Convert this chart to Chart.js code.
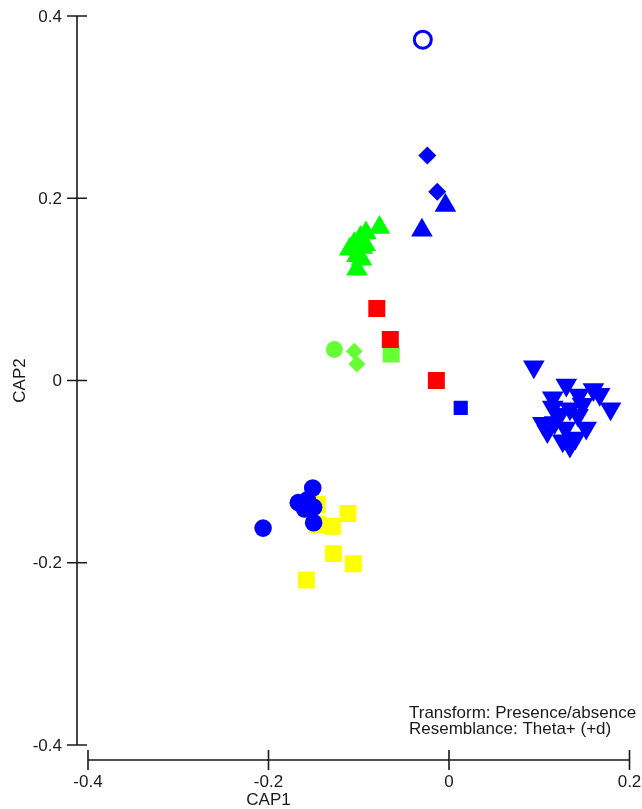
<!DOCTYPE html>
<html>
<head>
<meta charset="utf-8">
<script src="https://cdn.jsdelivr.net/npm/chart.js@4/dist/chart.umd.min.js"></script>
<style>
  body { margin: 0; background: #fff; }
  canvas { display: block; }
</style>
</head>
<body>
<canvas id="capChart" width="642" height="809"></canvas>
<script>
// CAP ordination scores, one array of [CAP1, CAP2] per symbol group
const blueOpenCircle = [[-0.029, 0.374]];
const blueDiamonds = [[-0.024, 0.247], [-0.013, 0.207]];
const blueTriangles = [[-0.004, 0.192], [-0.030, 0.165]];
const greenTriangles = [
  [-0.077, 0.168], [-0.092, 0.162], [-0.098, 0.157], [-0.105, 0.150], [-0.110, 0.144],
  [-0.096, 0.146], [-0.102, 0.137], [-0.097, 0.133], [-0.102, 0.122], [-0.093, 0.149]
];
const redSquares = [[-0.080, 0.079], [-0.065, 0.045], [-0.014, 0.000]];
const limeSquares = [[-0.064, 0.029]];
const limeCircles = [[-0.127, 0.034]];
const limeDiamonds = [[-0.105, 0.032], [-0.102, 0.018]];
const blueSquares = [[0.013, -0.030]];
const blueDownTriangles = [
  [0.094, 0.015], [0.130, -0.005], [0.160, -0.010], [0.115, -0.019], [0.144, -0.016],
  [0.179, -0.031], [0.134, -0.031], [0.115, -0.029], [0.143, -0.038], [0.104, -0.047],
  [0.117, -0.046], [0.152, -0.052], [0.126, -0.066], [0.140, -0.063], [0.109, -0.056],
  [0.129, -0.052], [0.167, -0.015], [0.123, -0.037], [0.148, -0.026], [0.134, -0.072]
];
const blueCircles = [
  [-0.206, -0.162], [-0.151, -0.118], [-0.167, -0.134], [-0.157, -0.131],
  [-0.150, -0.139], [-0.150, -0.156], [-0.160, -0.141]
];
const yellowSquares = [
  [-0.112, -0.146], [-0.129, -0.160], [-0.145, -0.158], [-0.146, -0.136],
  [-0.128, -0.190], [-0.106, -0.201], [-0.158, -0.219]
];

const xTicks = [-0.4, -0.2, 0, 0.2];
const xTickLabels = ['-0.4', '-0.2', '0', '0.2'];
const yTicks = [0.4, 0.2, 0, -0.2, -0.4];
const yTickLabels = ['0.4', '0.2', '0', '-0.2', '-0.4'];
const xTitle = 'CAP1';
const yTitle = 'CAP2';
const noteLines = ['Transform: Presence/absence', 'Resemblance: Theta+ (+d)'];

const BLUE = '#0000ff';
const GREEN = '#00ff00';
const LIME = '#66ff33';
const RED = '#ff0000';
const YELLOW = '#ffff00';
const FONT = "17px 'Liberation Sans', Arial, sans-serif";
const INK = '#1a1a1a';

function toPoints(arr) {
  return arr.map(p => ({ x: p[0], y: p[1] }));
}

function group(data, color, style, radius, extra) {
  return Object.assign({
    data: toPoints(data),
    pointStyle: style,
    pointRadius: radius,
    pointHoverRadius: radius,
    backgroundColor: color,
    borderColor: color,
    borderWidth: 0
  }, extra || {});
}

// PRIMER-style detached axes, ticks crossing the axis line
const primerAxes = {
  id: 'primerAxes',
  afterDraw(chart) {
    const ctx = chart.ctx;
    const xs = chart.scales.x;
    const ys = chart.scales.y;
    const area = chart.chartArea;
    const axisX = area.left - 11;
    const axisY = area.bottom + 15;

    ctx.save();
    ctx.strokeStyle = INK;
    ctx.lineWidth = 1.6;
    ctx.fillStyle = INK;
    ctx.font = FONT;

    // y axis
    ctx.beginPath();
    ctx.moveTo(axisX, ys.getPixelForValue(yTicks[0]));
    ctx.lineTo(axisX, ys.getPixelForValue(yTicks[yTicks.length - 1]));
    yTicks.forEach(v => {
      const py = ys.getPixelForValue(v);
      ctx.moveTo(axisX - 10, py);
      ctx.lineTo(axisX + 10, py);
    });
    ctx.stroke();
    ctx.textAlign = 'right';
    ctx.textBaseline = 'middle';
    yTicks.forEach((v, i) => {
      ctx.fillText(yTickLabels[i], axisX - 15, ys.getPixelForValue(v) + 1);
    });

    // x axis
    ctx.beginPath();
    ctx.moveTo(xs.getPixelForValue(xTicks[0]), axisY);
    ctx.lineTo(xs.getPixelForValue(xTicks[xTicks.length - 1]), axisY);
    xTicks.forEach(v => {
      const px = xs.getPixelForValue(v);
      ctx.moveTo(px, axisY - 10);
      ctx.lineTo(px, axisY + 10);
    });
    ctx.stroke();
    ctx.textAlign = 'center';
    xTicks.forEach((v, i) => {
      ctx.fillText(xTickLabels[i], xs.getPixelForValue(v), axisY + 22);
    });

    // titles
    ctx.fillText(xTitle, xs.getPixelForValue(-0.2), axisY + 40);
    ctx.save();
    ctx.translate(20, ys.getPixelForValue(0));
    ctx.rotate(-Math.PI / 2);
    ctx.fillText(yTitle, 0, 0);
    ctx.restore();

    // note, bottom right
    ctx.textAlign = 'left';
    ctx.textBaseline = 'alphabetic';
    ctx.fillText(noteLines[0], 409, 718);
    ctx.fillText(noteLines[1], 409, 734);
    ctx.restore();
  }
};

new Chart(document.getElementById('capChart').getContext('2d'), {
  type: 'scatter',
  data: {
    datasets: [
      group(blueOpenCircle, BLUE, 'circle', 8.5, { backgroundColor: 'rgba(0,0,0,0)', borderWidth: 3 }),
      group(blueDiamonds, BLUE, 'rectRot', 9),
      group(blueTriangles, BLUE, 'triangle', 12.5),
      group(blueCircles, BLUE, 'circle', 8.8),
      group(yellowSquares, YELLOW, 'rect', 12),
      group(redSquares, RED, 'rect', 12),
      group(limeSquares, LIME, 'rect', 12),
      group(limeCircles, LIME, 'circle', 8.5),
      group(limeDiamonds, LIME, 'rectRot', 8.5),
      group(greenTriangles, GREEN, 'triangle', 12.5),
      group(blueSquares, BLUE, 'rect', 10),
      group(blueDownTriangles, BLUE, 'triangle', 12.5, { pointRotation: 180 })
    ]
  },
  options: {
    responsive: false,
    animation: false,
    layout: { padding: { left: 88, right: 12, top: 16, bottom: 64 } },
    plugins: { legend: { display: false }, tooltip: { enabled: false } },
    scales: {
      x: { type: 'linear', min: -0.4, max: 0.2, display: false },
      y: { type: 'linear', min: -0.4, max: 0.4, display: false }
    }
  },
  plugins: [primerAxes]
});
</script>
</body>
</html>
